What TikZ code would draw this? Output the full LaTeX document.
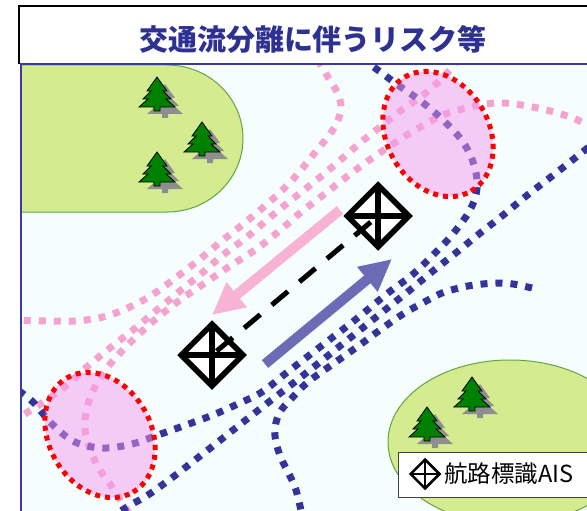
\documentclass[tikz,border=0pt]{standalone}
\usepackage{fontspec}
\usepackage{tikz}
\usetikzlibrary{shapes.geometric,arrows.meta,positioning}
\newfontfamily\jpfont{Noto Sans CJK JP}
\definecolor{seaBg}{HTML}{F5FDFD}
\definecolor{landGreen}{HTML}{D4EB8F}
\definecolor{landEdge}{HTML}{62A544}
\definecolor{treeGreen}{HTML}{008000}
\definecolor{treeShade}{HTML}{8E8E8E}
\definecolor{lanePink}{HTML}{F6A2D0}
\definecolor{laneNavy}{HTML}{333399}
\definecolor{arrowPink}{HTML}{F8B2D4}
\definecolor{arrowBlue}{HTML}{6C6CB6}
\definecolor{riskRed}{HTML}{FF0000}
\definecolor{riskPink}{HTML}{F49AEE}
\definecolor{titleBlue}{HTML}{2E3192}
\definecolor{frameBlue}{HTML}{3B3B9E}
\definecolor{legendEdge}{HTML}{404040}

\tikzset{
  treeShadow/.style={fill=treeShade},
  treeBody/.style={fill=treeGreen, draw=black, line width=0.8pt},
  pinetree/.pic={
    \foreach \dx/\dy/\sty in {8/7/treeShadow, 0/0/treeBody}
      \path[\sty, shift={(\dx,\dy)}] (0,0) -- (10,14) -- (6,14) -- (14,22) -- (9,22)
        -- (18,30) -- (3,30) -- (3,34) -- (-3,34) -- (-3,30) -- (-18,30) -- (-9,22)
        -- (-14,22) -- (-6,14) -- (-10,14) -- cycle;
  },
  aismark/.style={diamond, draw=black, fill=white, line width=#1, inner sep=0pt,
    minimum width=64pt, minimum height=64pt,
    path picture={\draw[line width=#1]
      (path picture bounding box.north) -- (path picture bounding box.south)
      (path picture bounding box.west) -- (path picture bounding box.east);}},
  aismark/.default=5.5pt,
  pinkdots/.style={draw=lanePink, line width=7pt, dash pattern=on 7pt off 8pt},
  navydots/.style={draw=laneNavy, line width=7pt, dash pattern=on 7pt off 8pt},
  riskzone/.style={ellipse, draw=riskRed, line width=5pt, dash pattern=on 5pt off 5pt,
    fill=riskPink, fill opacity=0.5, draw opacity=1, inner sep=0pt,
    minimum width=132pt, minimum height=102pt, rotate=-60},
  lanearrow/.style={line width=10pt, -{Triangle[length=32pt, width=30pt]}},
  land/.style={fill=landGreen, draw=landEdge, line width=1pt}
}

\begin{document}
\begin{tikzpicture}[x=1pt, y=-1pt]
    \useasboundingbox (0,0) rectangle (587,511);
    % Title bar
    \draw[line width=1.5pt, fill=white] (19,64) -- (19,6) -- (600,6) -- (600,64);
    \node[font=\jpfont\bfseries\fontsize{29}{32}\selectfont, text=titleBlue] (title) at (313,39) {交通流分離に伴うリスク等};

    % Sea area
    \fill[seaBg] (21,64) rectangle (587,511);
    \begin{scope}
    \clip (21,64) rectangle (587,511);
    % Land
    \draw[land] (10,65) -- (167,65) arc[start angle=-90, end angle=90, x radius=76, y radius=73.5] -- (10,212) -- cycle;
    \draw[land] (510,442) ellipse [x radius=122, y radius=82];
    \foreach \x/\y in {157/77, 202/122, 157/152, 472/377, 427/407}
        \pic at (\x,\y) {pinetree};

    % Southbound lanes
    \draw[pinkdots] plot[smooth, tension=0.6] coordinates {(318,60) (329,79) (337,92) (341,106) (338,120) (330,134) (313,155) (295,177) (275,197) (247,221) (223,240) (200,259) (178,276) (155,293) (130,307) (103,317) (75,321) (50,321) (12,320)};
    \draw[pinkdots] plot[smooth, tension=0.6] coordinates {(458,58) (448,72) (427,92) (403,109) (380,127) (360,143) (337,163) (313,183) (290,201) (268,219) (247,237) (223,255) (202,273) (180,291) (157,310) (133,330) (110,348) (88,366) (67,385) (45,401) (12,422)};
    \draw[pinkdots] plot[smooth, tension=0.6] coordinates {(595,128) (570,117) (542,109) (515,104) (500,103) (485,104) (470,107) (443,115) (417,129) (393,144) (368,161) (345,178) (322,196) (300,213) (278,232) (255,250) (230,266) (205,283) (180,300) (157,318) (137,336) (120,353) (104,372) (92,393) (86,413) (85,430) (89,446) (98,467) (112,487) (130,515)};

    % Northbound lanes
    \draw[navydots] plot[smooth, tension=0.6] coordinates {(362,58) (375,68) (398,85) (422,102) (444,121) (463,142) (474,165) (477,188) (470,210) (452,235) (433,255) (412,275) (388,293) (355,320) (320,347) (285,374) (262,392) (240,403) (213,415) (186,425) (158,435) (132,444) (103,448) (75,442) (52,424) (33,402) (12,386)};
    \draw[navydots] plot[smooth, tension=0.6] coordinates {(600,138) (570,162) (547,180) (525,197) (502,216) (479,234) (457,252) (433,271) (410,290) (380,314) (345,342) (310,370) (287,388) (265,405) (242,423) (218,442) (195,460) (173,477) (148,495) (127,507) (108,520)};
    \draw[navydots] plot[smooth, tension=0.6] coordinates {(532,288) (513,284) (498,283) (483,284) (468,286) (455,289) (442,293) (430,299) (417,306) (403,314) (380,330) (357,347) (333,364) (308,382) (292,398) (280,412) (275,428) (276,442) (281,458) (289,474) (296,490) (302,515)};

    % Risk areas
    \node[riskzone] (riskNE) at (438,134) {};
    \node[riskzone] (riskSW) at (100,435) {};

    % Traffic direction
    \coordinate (southTail) at (340,210);
    \coordinate (southTip) at (212,315);
    \coordinate (northTail) at (265,364);
    \coordinate (northTip) at (392,259);
    \draw[lanearrow, arrowPink] (southTail) -- (southTip);
    \draw[lanearrow, arrowBlue] (northTail) -- (northTip);

    % AIS aids
    \node[aismark] (aisSW) at (212,355) {};
    \node[aismark] (aisNE) at (378,216) {};
    \draw[line width=5pt, dash pattern=on 21pt off 15pt, dash phase=30pt] (aisSW.center) -- (aisNE.center);

    % Legend
    \node[draw=legendEdge, line width=1pt, fill=white, minimum width=204pt, minimum height=45pt, inner sep=0pt] (legendBox) at (500,474.5) {};
    \node[aismark=2.5pt, minimum width=30pt, minimum height=30pt] (legendMark) at (425,474) {};
    \node[right=3pt of legendMark, font=\jpfont\fontsize{23.5}{26}\selectfont, inner sep=0pt] (legendText) {航路標識AIS};
    \end{scope}

    % Frame
    \draw[frameBlue, line width=2pt] (21,511) -- (21,64) -- (587,64);
\end{tikzpicture}
\end{document}
